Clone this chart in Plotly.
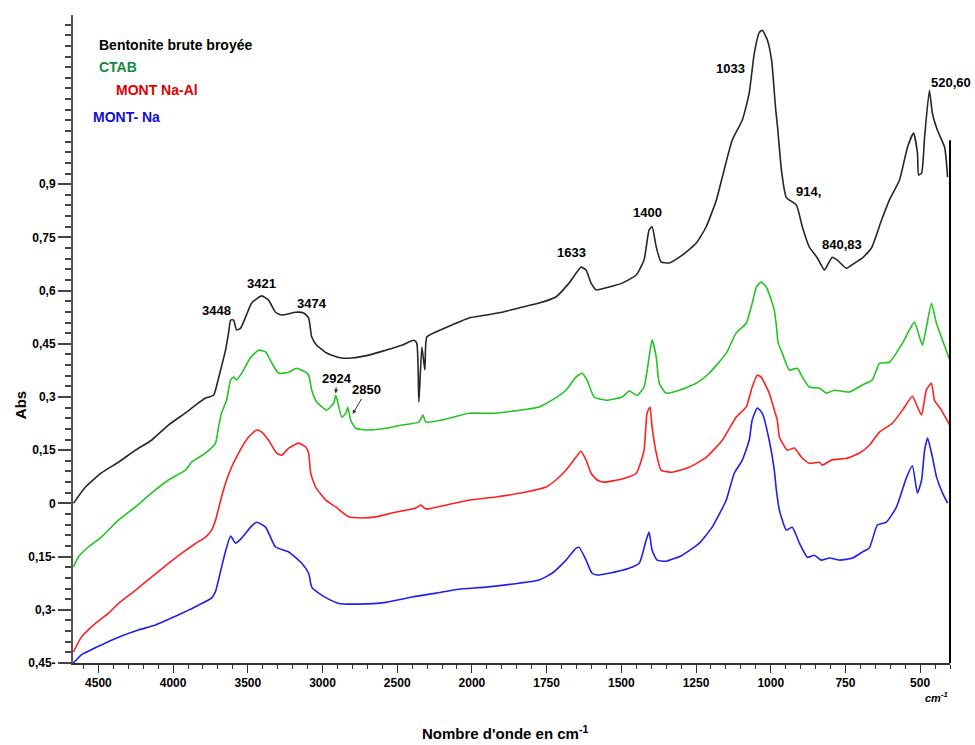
import plotly.graph_objects as go

# ---------------------------------------------------------------- data
# FTIR spectra: wavenumber (cm-1) / absorbance

wn_bent = [4667, 4587, 4480, 4366, 4252, 4145, 4031, 3917, 3850, 3783, 3729, 3716, 3682, 3649,
           3629, 3615, 3595, 3575, 3548, 3515, 3474, 3407, 3361, 3314, 3273, 3180, 3126, 3093,
           3072, 3039, 2972, 2938, 2871, 2804, 2690, 2576, 2469, 2389, 2369, 2355, 2335, 2315,
           2302, 2241, 2134, 2020, 1953, 1899, 1843, 1775, 1719, 1675, 1635, 1618, 1601, 1584,
           1541, 1497, 1450, 1424, 1407, 1397, 1383, 1367, 1340, 1296, 1249, 1216, 1182, 1162,
           1129, 1095, 1072, 1055, 1038, 1028, 1011, 997, 984, 977, 964, 948, 914, 894, 871,
           844, 820, 810, 794, 777, 747, 720, 693, 663, 629, 603, 569, 542, 522, 509, 505, 495,
           485, 469, 459, 442, 418, 408]
abs_bent = [0.000, 0.046, 0.086, 0.116, 0.150, 0.178, 0.221, 0.255, 0.277, 0.297, 0.305, 0.320,
            0.376, 0.432, 0.480, 0.517, 0.517, 0.489, 0.494, 0.525, 0.565, 0.585, 0.573, 0.539,
            0.531, 0.539, 0.537, 0.523, 0.469, 0.446, 0.424, 0.418, 0.410, 0.410, 0.418, 0.432,
            0.446, 0.460, 0.452, 0.286, 0.441, 0.376, 0.469, 0.483, 0.503, 0.523, 0.531, 0.539,
            0.551, 0.565, 0.582, 0.621, 0.666, 0.658, 0.621, 0.602, 0.610, 0.621, 0.644, 0.686,
            0.771, 0.780, 0.723, 0.681, 0.678, 0.700, 0.734, 0.780, 0.855, 0.920, 1.024, 1.081,
            1.157, 1.269, 1.328, 1.334, 1.306, 1.249, 1.117, 1.060, 0.939, 0.863, 0.841, 0.779,
            0.723, 0.692, 0.658, 0.672, 0.694, 0.686, 0.663, 0.677, 0.692, 0.720, 0.799, 0.855,
            0.912, 1.005, 1.044, 0.988, 0.926, 0.931, 1.033, 1.165, 1.100, 1.052, 1.004, 0.920]

wn_ctab = [4667, 4634, 4567, 4480, 4366, 4252, 4145, 4031, 3917, 3877, 3783, 3716, 3696, 3676,
           3642, 3615, 3595, 3575, 3528, 3481, 3427, 3381, 3340, 3293, 3226, 3173, 3113, 3093,
           3072, 3039, 2972, 2925, 2911, 2898, 2871, 2844, 2831, 2811, 2777, 2690, 2576, 2469,
           2355, 2328, 2308, 2201, 2020, 1933, 1866, 1775, 1732, 1685, 1652, 1631, 1615, 1591,
           1551, 1497, 1474, 1447, 1424, 1407, 1397, 1383, 1373, 1350, 1306, 1249, 1206, 1149,
           1116, 1082, 1062, 1048, 1032, 1015, 998, 988, 981, 975, 961, 938, 911, 894, 871, 837,
           814, 787, 737, 693, 660, 636, 603, 559, 536, 519, 502, 492, 479, 462, 445, 425, 401]
abs_ctab = [-0.179, -0.151, -0.123, -0.095, -0.047, -0.010, 0.029, 0.066, 0.094, 0.116, 0.142,
            0.170, 0.215, 0.255, 0.291, 0.348, 0.356, 0.348, 0.376, 0.412, 0.432, 0.427, 0.396,
            0.367, 0.370, 0.381, 0.370, 0.362, 0.319, 0.286, 0.263, 0.283, 0.305, 0.286, 0.243,
            0.254, 0.271, 0.234, 0.212, 0.207, 0.212, 0.221, 0.229, 0.249, 0.229, 0.235, 0.254,
            0.254, 0.260, 0.272, 0.291, 0.319, 0.356, 0.367, 0.348, 0.300, 0.291, 0.300, 0.317,
            0.305, 0.328, 0.412, 0.461, 0.412, 0.339, 0.311, 0.319, 0.339, 0.367, 0.423, 0.480,
            0.508, 0.564, 0.610, 0.624, 0.610, 0.573, 0.545, 0.500, 0.452, 0.423, 0.376, 0.381,
            0.356, 0.328, 0.325, 0.311, 0.319, 0.314, 0.334, 0.348, 0.395, 0.398, 0.452, 0.489,
            0.511, 0.469, 0.446, 0.497, 0.564, 0.507, 0.460, 0.404]

wn_naal = [4667, 4614, 4520, 4433, 4366, 4252, 4145, 4031, 3944, 3850, 3783, 3743, 3716, 3676,
           3642, 3609, 3562, 3495, 3441, 3407, 3361, 3307, 3273, 3226, 3159, 3113, 3093, 3079,
           3046, 2978, 2911, 2824, 2737, 2643, 2536, 2375, 2342, 2308, 2174, 2020, 1920, 1819,
           1752, 1719, 1685, 1652, 1635, 1618, 1601, 1581, 1558, 1497, 1450, 1424, 1414, 1404,
           1397, 1383, 1367, 1330, 1273, 1216, 1162, 1116, 1082, 1062, 1045, 1032, 1005, 988,
           978, 971, 944, 921, 897, 871, 837, 827, 797, 747, 703, 670, 636, 593, 559, 526, 509,
           495, 479, 462, 452, 429, 401]
abs_naal = [-0.419, -0.377, -0.338, -0.310, -0.282, -0.245, -0.208, -0.169, -0.141, -0.113,
            -0.095, -0.076, -0.047, 0.018, 0.066, 0.102, 0.142, 0.187, 0.207, 0.201, 0.178,
            0.142, 0.136, 0.156, 0.170, 0.159, 0.142, 0.085, 0.046, 0.009, -0.010, -0.038,
            -0.041, -0.038, -0.027, -0.013, -0.005, -0.016, -0.005, 0.009, 0.018, 0.032, 0.046,
            0.066, 0.094, 0.130, 0.147, 0.122, 0.085, 0.066, 0.060, 0.069, 0.085, 0.150, 0.254,
            0.272, 0.215, 0.142, 0.094, 0.088, 0.102, 0.130, 0.178, 0.243, 0.272, 0.328, 0.362,
            0.356, 0.311, 0.263, 0.235, 0.187, 0.150, 0.156, 0.130, 0.113, 0.116, 0.108, 0.122,
            0.127, 0.142, 0.164, 0.201, 0.226, 0.263, 0.302, 0.272, 0.249, 0.320, 0.339, 0.291,
            0.263, 0.221]

wn_na = [4667, 4614, 4480, 4346, 4232, 4118, 3984, 3897, 3830, 3743, 3716, 3682, 3649, 3615,
         3582, 3541, 3481, 3441, 3381, 3314, 3226, 3139, 3093, 3072, 3025, 2972, 2891, 2757,
         2576, 2402, 2241, 2087, 1953, 1843, 1775, 1732, 1685, 1652, 1641, 1618, 1598, 1581,
         1541, 1474, 1440, 1417, 1407, 1397, 1380, 1350, 1296, 1239, 1196, 1149, 1122, 1095,
         1072, 1062, 1045, 1028, 1005, 988, 981, 971, 948, 928, 904, 877, 854, 831, 804, 770,
         726, 693, 670, 643, 613, 579, 546, 526, 509, 495, 485, 475, 459, 445, 425, 408]
abs_na = [-0.450, -0.427, -0.399, -0.374, -0.357, -0.343, -0.318, -0.301, -0.287, -0.267,
          -0.248, -0.191, -0.135, -0.092, -0.112, -0.098, -0.067, -0.053, -0.067, -0.123,
          -0.137, -0.169, -0.197, -0.236, -0.253, -0.267, -0.282, -0.284, -0.279, -0.264,
          -0.253, -0.242, -0.236, -0.225, -0.216, -0.197, -0.160, -0.127, -0.124, -0.160,
          -0.197, -0.202, -0.197, -0.183, -0.169, -0.104, -0.081, -0.132, -0.160, -0.163,
          -0.146, -0.112, -0.067, 0.009, 0.085, 0.122, 0.178, 0.235, 0.269, 0.254, 0.178,
          0.094, 0.037, -0.019, -0.075, -0.067, -0.112, -0.152, -0.146, -0.160, -0.154,
          -0.160, -0.154, -0.137, -0.126, -0.061, -0.053, -0.010, 0.072, 0.106, 0.029, 0.066,
          0.150, 0.184, 0.131, 0.074, 0.029, 0.001]

# axis ticks
x_tick_wn = [4500, 4000, 3500, 3000, 2500, 2000, 1750, 1500, 1250, 1000, 750, 500]
y_tick_vals = [0.9, 0.75, 0.6, 0.45, 0.3, 0.15, 0, -0.15, -0.3, -0.45]
y_tick_text = ["0,9", "0,75", "0,6", "0,45", "0,3", "0,15", "0", "0,15-", "0,3-", "0,45-"]

# band labels: (text, wavenumber, absorbance of label centre, horizontal anchor)
band_labels = [
    ("3448", 3709, 0.545, "center"), ("3421", 3407, 0.621, "center"),
    ("3474", 3072, 0.565, "center"), ("1633", 1668, 0.706, "center"),
    ("1400", 1413, 0.821, "center"), ("1033", 1135, 1.227, "center"),
    ("914,", 874, 0.880, "center"), ("840,83", 760, 0.731, "center"),
    ("520,60", 469, 1.188, "left"),
]
# arrowed CTAB labels: (text, label wn, label abs, tip wn, tip abs)
arrow_labels = [("2924", 2905, 0.353, 2911, 0.310), ("2850", 2704, 0.320, 2798, 0.252)]


def to_axis(w):
    """Region above 2000 cm-1 is drawn at half scale."""
    return w if w <= 2000 else 2000 + (w - 2000) / 2


FONT = "Liberation Sans, Arial, sans-serif"

series = [
    ("Bentonite brute broyée", wn_bent, abs_bent, "#262626"),
    ("CTAB", wn_ctab, abs_ctab, "#22c522"),
    ("MONT Na-Al", wn_naal, abs_naal, "#ff2020"),
    ("MONT- Na", wn_na, abs_na, "#2020e8"),
]

fig = go.Figure()
for name, wn, ab, col in series:
    fig.add_trace(go.Scatter(
        x=[to_axis(w) for w in wn], y=ab, mode="lines", name=name,
        line=dict(color=col, width=1.6, shape="spline", smoothing=0.5), showlegend=False,
    ))

ann = []
for txt, w, a, anchor in band_labels:
    ann.append(dict(x=to_axis(w), y=a, xref="x", yref="y", text=txt, showarrow=False,
                    xanchor=anchor, yanchor="middle",
                    font=dict(family=FONT, size=13, color="black", weight="bold")))
for txt, w, a, tw, ta in arrow_labels:
    ann.append(dict(x=to_axis(tw), y=ta, xref="x", yref="y", ax=to_axis(w), ay=a,
                    axref="x", ayref="y", text=txt, showarrow=True, arrowhead=2,
                    arrowsize=0.8, arrowwidth=1, arrowcolor="#333",
                    font=dict(family=FONT, size=13, color="black", weight="bold")))

# series names
legend_items = [
    ("Bentonite brute broyée", 0.0274, 0.9537, "black"),
    ("CTAB", 0.0274, 0.9198, "#108a40"),
    ("MONT Na-Al", 0.0468, 0.8843, "#e00000"),
    ("MONT- Na", 0.0205, 0.8426, "#1010d0"),
]
for txt, x, y, col in legend_items:
    ann.append(dict(x=x, y=y, xref="paper", yref="paper", text=txt, showarrow=False,
                    xanchor="left", yanchor="middle",
                    font=dict(family=FONT, size=14, color=col, weight="bold")))

ann.append(dict(x=-0.0604, y=0.398, xref="paper", yref="paper", text="Abs", textangle=-90,
                xanchor="center", yanchor="middle", showarrow=False,
                font=dict(family=FONT, size=15, color="black", weight="bold")))
ann.append(dict(x=0.4926, y=-0.107, xref="paper", yref="paper",
                xanchor="center", yanchor="middle",
                text="Nombre d'onde en cm<sup>-1</sup>", showarrow=False,
                font=dict(family=FONT, size=15, color="black", weight="bold")))
ann.append(dict(x=1.0, y=-0.052, xref="paper", yref="paper", xanchor="right",
                yanchor="middle",
                text="<i>cm<sup>-1</sup></i>", showarrow=False,
                font=dict(family=FONT, size=11, color="black", weight="bold")))

fig.update_layout(
    width=975, height=745,
    margin=dict(l=73, r=25, t=15, b=82),
    paper_bgcolor="white", plot_bgcolor="white",
    annotations=ann,
    shapes=[dict(type="line", xref="x domain", yref="y", x0=1, x1=1, y0=-0.45, y1=1.024,
                 line=dict(color="black", width=2))],
)

fig.update_xaxes(
    range=[to_axis(4670), to_axis(400)],
    tickmode="array", tickvals=[to_axis(w) for w in x_tick_wn],
    ticktext=[str(w) for w in x_tick_wn],
    ticks="outside", ticklen=8, tickwidth=1, tickcolor="#333",
    minor=dict(tickmode="linear", tick0=0, dtick=50, ticks="outside", ticklen=4,
               tickcolor="#333", tickwidth=1),
    showline=True, linecolor="#333", linewidth=1.5,
    showgrid=False, zeroline=False,
    tickfont=dict(family=FONT, size=12, color="black", weight="bold"),
)
fig.update_yaxes(
    range=[-0.45, 1.377],
    tickmode="array", tickvals=y_tick_vals, ticktext=y_tick_text,
    ticks="outside", ticklen=13, tickwidth=1.5, tickcolor="#444",
    minor=dict(tickmode="linear", tick0=0, dtick=0.03, ticks="outside", ticklen=6,
               tickcolor="#444", tickwidth=1.5),
    showline=True, linecolor="#555", linewidth=2,
    showgrid=False, zeroline=False,
    tickfont=dict(family=FONT, size=12, color="black", weight="bold"),
)

fig.write_html("out.html")
